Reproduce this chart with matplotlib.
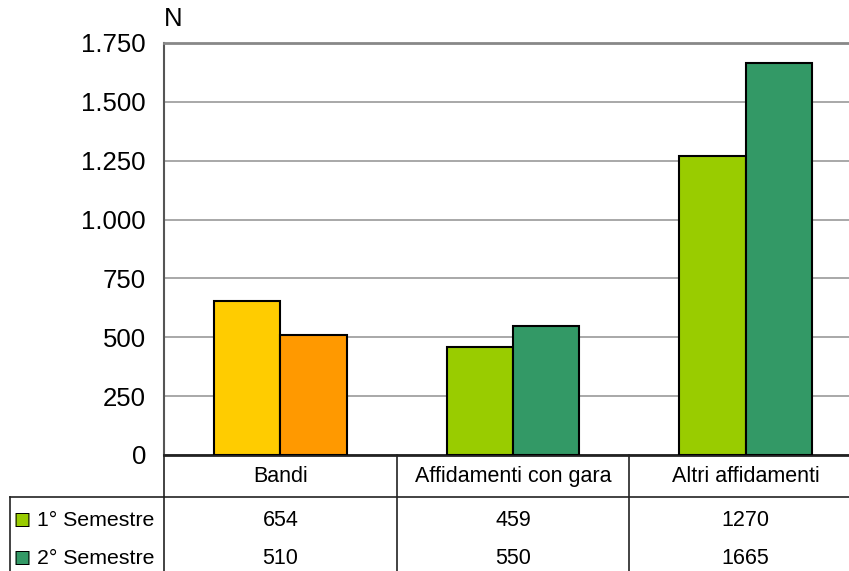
import numpy as np
import matplotlib.pyplot as plt

plt.rcParams['font.family'] = ['Liberation Sans', 'DejaVu Sans']

# Dati
categorie = ["Bandi", "Affidamenti con gara", "Altri affidamenti"]
serie = ["1° Semestre", "2° Semestre"]
primo_semestre = [654, 459, 1270]
secondo_semestre = [510, 550, 1665]
yticks = [0, 250, 500, 750, 1000, 1250, 1500, 1750]
ytick_labels = ["0", "250", "500", "750", "1.000", "1.250", "1.500", "1.750"]

# Colori (Bandi ha colori propri)
col_primo = ["#FFCC00", "#99CC00", "#99CC00"]
col_secondo = ["#FF9900", "#339966", "#339966"]
col_legenda = ["#99CC00", "#339966"]

W, H = 849, 571
fig = plt.figure(figsize=(W / 100, H / 100), dpi=100)
ax_l, ax_r, ax_t, ax_b = 164, 862, 43, 455
ax = fig.add_axes([ax_l / W, 1 - ax_b / H, (ax_r - ax_l) / W, (ax_b - ax_t) / H])

x = np.arange(len(categorie))
bw = 0.285
ax.bar(x - bw / 2, primo_semestre, bw, color=col_primo, edgecolor="black", linewidth=1.5, zorder=3)
ax.bar(x + bw / 2, secondo_semestre, bw, color=col_secondo, edgecolor="black", linewidth=1.5, zorder=3)

ax.set_xlim(-0.5, 2.5)
ax.set_ylim(0, 1750)
ax.set_yticks(yticks)
ax.set_yticklabels(ytick_labels, fontsize=18.5)
ax.set_xticks([])
ax.tick_params(axis="y", length=0, pad=13)
ax.yaxis.grid(True, color="#999999", linewidth=1.2, zorder=0)
ax.spines["right"].set_visible(False)
ax.spines["top"].set_color("#888888")
ax.spines["top"].set_linewidth(2)
ax.spines["left"].set_color("#555555")
ax.spines["left"].set_linewidth(1.5)
ax.spines["bottom"].set_color("#222222")
ax.spines["bottom"].set_linewidth(2)

ax.text(-0.5, 1.03, "N", transform=ax.get_xaxis_transform(), fontsize=18.5, ha="left", va="bottom")

# Tabella dati sotto il grafico
hpx = ax_b - ax_t
def ypos(py):
    return -(py - ax_b) / hpx

tr = ax.get_xaxis_transform()
lk = dict(transform=tr, clip_on=False, color="#222222", linewidth=1.2)
for xb in [-0.5, 0.5, 1.5]:
    ax.plot([xb, xb], [0, ypos(575)], **lk)
ax.plot([-0.5, 2.5], [ypos(497), ypos(497)], **lk)

x_tab_left = -0.5 - (ax_l - 10) / (ax_r - ax_l) * 3
ax.plot([x_tab_left, -0.5], [ypos(497), ypos(497)], **lk)
ax.plot([x_tab_left, x_tab_left], [ypos(497), ypos(575)], **lk)

for i, c in enumerate(categorie):
    ax.text(i, ypos(482), c, transform=tr, ha="center", va="baseline", fontsize=15.5)

righe = [primo_semestre, secondo_semestre]
for r, (nome, valori) in enumerate(zip(serie, righe)):
    base = [526, 564][r]
    for i, v in enumerate(valori):
        ax.text(i, ypos(base), str(v), transform=tr, ha="center", va="baseline", fontsize=15.5)
    py = base - 6
    fig.text(22 / W, 1 - py / H, "■", color=col_legenda[r], fontsize=13, ha="center", va="center",
             family="DejaVu Sans")
    fig.text(22 / W, 1 - py / H, "□", color="black", fontsize=13, ha="center", va="center",
             family="DejaVu Sans")
    fig.text(37 / W, 1 - base / H, nome, fontsize=15.3, ha="left", va="baseline")

fig.savefig("out.png", dpi=100)
